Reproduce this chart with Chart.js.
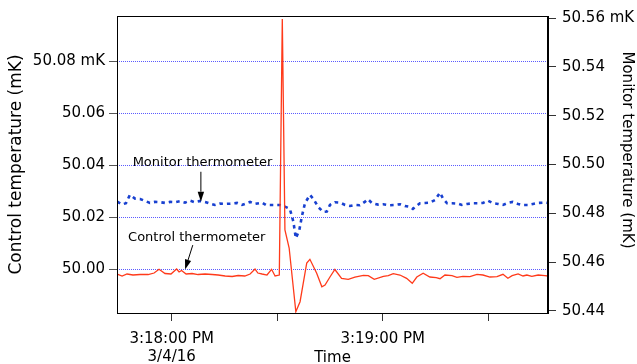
<!DOCTYPE html>
<html>
<head>
<meta charset="utf-8">
<script src="https://cdn.jsdelivr.net/npm/chart.js@4"></script>
<style>
  body { margin: 0; background: white; }
</style>
</head>
<body>
<canvas id="chart" width="637" height="364"></canvas>
<script>
// seconds after 3:18:00 PM
const controlTimes = [-15.5, -14.1, -12.7, -11.0, -9.0, -6.7, -5.0, -3.6, -1.9, -0.2, 1.4, 2.1, 2.8, 4.1, 5.8, 7.5, 9.5, 11.5, 13.2, 15.2,
    17.2, 18.9, 20.8, 22.3, 23.7, 24.5, 25.7, 27.1, 28.4, 29.4, 30.6, 31.45, 32.2, 33.4, 35.3, 36.5, 38.4, 39.3, 41.2, 42.7,
    43.6, 45.0, 46.4, 48.3, 50.2, 52.1, 54.5, 55.9, 57.6, 60.2, 61.6, 63.0, 64.9, 66.8, 68.4, 69.7, 71.5, 73.4, 75.2, 76.3,
    77.7, 79.7, 81.1, 82.8, 84.8, 86.8, 88.5, 90.5, 92.5, 94.2, 95.6, 96.8, 98.5, 99.9, 101.0, 102.4, 104.2, 106.1, 107.0];
const controlValues = [49.99808, 49.99731, 49.99808, 49.99769, 49.99788, 49.99788, 49.99846, 49.99988, 49.99827, 49.99808,
    50.00000, 49.99885, 49.99942, 49.99808, 49.99827, 49.99788, 49.99808, 49.99788, 49.99769, 49.99731,
    49.99712, 49.99750, 49.99731, 49.99808, 50.00000, 49.99846, 49.99808, 49.99769, 49.99988, 49.99731,
    49.99769, 50.09615, 50.01500, 50.00808, 49.98358, 49.98742, 50.00231, 50.00373, 49.99846, 49.99319,
    49.99385, 49.99692, 49.99981, 49.99635, 49.99604, 49.99692, 49.99758, 49.99742, 49.99604, 49.99719,
    49.99742, 49.99819, 49.99769, 49.99642, 49.99450, 49.99692, 49.99835, 49.99692, 49.99665, 49.99627,
    49.99769, 49.99742, 49.99681, 49.99719, 49.99704, 49.99796, 49.99769, 49.99692, 49.99704, 49.99796,
    49.99642, 49.99742, 49.99808, 49.99731, 49.99769, 49.99719, 49.99769, 49.99742, 49.99731];

const monitorTimes = [-15.5, -14.1, -13.0, -11.9, -10.4, -9.0, -7.6, -6.2, -4.8, -3.3, -1.9, -0.5, 0.9, 2.4, 3.8, 5.2, 6.6, 8.1, 9.5, 10.9,
    12.3, 13.7, 15.2, 16.6, 18.6, 20.0, 22.3, 23.7, 25.7, 26.8, 28.5, 30.8, 32.2, 33.6, 34.6, 35.3, 36.3, 37.0, 37.9, 39.3,
    40.3, 41.7, 43.1, 44.1, 45.0, 46.4, 47.9, 49.3, 50.7, 52.1, 53.5, 55.0, 55.8, 57.0, 58.7, 60.1, 62.1, 63.5, 64.9, 66.3,
    67.8, 68.6, 70.6, 72.0, 73.4, 74.9, 76.3, 77.1, 78.3, 79.7, 81.4, 82.5, 84.0, 85.7, 87.1, 88.5, 89.9, 91.4, 92.8, 94.2,
    95.6, 97.0, 98.5, 99.9, 101.3, 102.7, 104.2, 106.1, 107.0];
const monitorValues = [50.48480, 50.48365, 50.48414, 50.48754, 50.48602, 50.48590, 50.48508, 50.48426, 50.48467, 50.48455,
    50.48426, 50.48467, 50.48455, 50.48496, 50.48439, 50.48520, 50.48455, 50.48508, 50.48467, 50.48398,
    50.48344, 50.48398, 50.48385, 50.48398, 50.48426, 50.48344, 50.48467, 50.48385, 50.48439, 50.48344,
    50.48344, 50.48344, 50.48275, 50.48180, 50.47660, 50.46980, 50.47320, 50.47865, 50.48414, 50.48754,
    50.48590, 50.48250, 50.48057, 50.48070, 50.48344, 50.48455, 50.48439, 50.48344, 50.48303, 50.48344,
    50.48332, 50.48480, 50.48578, 50.48414, 50.48357, 50.48373, 50.48332, 50.48344, 50.48373, 50.48303,
    50.48262, 50.48180, 50.48414, 50.48426, 50.48439, 50.48549, 50.48848, 50.48619, 50.48414, 50.48414,
    50.48398, 50.48344, 50.48385, 50.48414, 50.48414, 50.48426, 50.48520, 50.48414, 50.48385, 50.48344,
    50.48426, 50.48467, 50.48385, 50.48344, 50.48344, 50.48385, 50.48426, 50.48439, 50.48426];

const xTicks = [0, 30, 60, 90];
const xTickLabels = [['3:18:00 PM', '3/4/16'], '', '3:19:00 PM', ''];
const leftTicks = [50.00, 50.02, 50.04, 50.06, 50.08];
const leftTickLabels = ['50.00', '50.02', '50.04', '50.06', '50.08 mK'];
const rightTicks = [50.44, 50.46, 50.48, 50.50, 50.52, 50.54, 50.56];
const rightTickLabels = ['50.44', '50.46', '50.48', '50.50', '50.52', '50.54', '50.56 mK'];

// annotation text + arrow, in data units (x: seconds, y: left axis)
const notes = [
    { text: 'Monitor thermometer', x: -11.1, y: 50.0408, from: [8.3, 50.0374], to: [8.3, 50.0259] },
    { text: 'Control thermometer', x: -12.4, y: 50.0122, from: [6.0, 50.0092], to: [3.8, 49.9998] }
];

const FONT = 'DejaVu Sans, Verdana, sans-serif';

// dotted blue lines at the left axis ticks
const gridPlugin = {
    id: 'dottedGrid',
    beforeDatasetsDraw(chart) {
        const { ctx, chartArea: { left, right }, scales: { y } } = chart;
        ctx.save();
        ctx.strokeStyle = '#5b5bff';
        ctx.lineWidth = 1;
        ctx.setLineDash([1, 1]);
        leftTicks.forEach(v => {
            const py = Math.round(y.getPixelForValue(v)) + 0.5;
            ctx.beginPath();
            ctx.moveTo(left, py);
            ctx.lineTo(right, py);
            ctx.stroke();
        });
        ctx.restore();
    }
};

const framePlugin = {
    id: 'frame',
    afterDraw(chart) {
        const { ctx, chartArea: { top, bottom, left, right } } = chart;
        ctx.save();
        ctx.strokeStyle = '#000000';
        ctx.lineWidth = 1;
        ctx.strokeRect(left + 0.5, top + 0.5, right - left - 1, bottom - top);
        // right axis title sits a little above centre in the original
        ctx.fillStyle = '#000000';
        ctx.font = '15px ' + FONT;
        ctx.textAlign = 'center';
        ctx.textBaseline = 'middle';
        ctx.translate(627, 150);
        ctx.rotate(Math.PI / 2);
        ctx.fillText('Monitor temperature (mK)', 0, 0);
        ctx.restore();
    }
};

const notesPlugin = {
    id: 'notes',
    afterDatasetsDraw(chart) {
        const { ctx, scales: { x, y } } = chart;
        ctx.save();
        ctx.fillStyle = '#000000';
        ctx.strokeStyle = '#000000';
        ctx.font = '13px ' + FONT;
        ctx.textBaseline = 'middle';
        notes.forEach(n => {
            ctx.fillText(n.text, x.getPixelForValue(n.x), y.getPixelForValue(n.y));
            const x1 = x.getPixelForValue(n.from[0]), y1 = y.getPixelForValue(n.from[1]);
            const x2 = x.getPixelForValue(n.to[0]), y2 = y.getPixelForValue(n.to[1]);
            const ang = Math.atan2(y2 - y1, x2 - x1);
            const head = 10, half = 3.2;
            ctx.lineWidth = 1;
            ctx.beginPath();
            ctx.moveTo(x1, y1);
            ctx.lineTo(x2 - head * Math.cos(ang), y2 - head * Math.sin(ang));
            ctx.stroke();
            ctx.beginPath();
            ctx.moveTo(x2, y2);
            ctx.lineTo(x2 - head * Math.cos(ang) - half * Math.sin(ang), y2 - head * Math.sin(ang) + half * Math.cos(ang));
            ctx.lineTo(x2 - head * Math.cos(ang) + half * Math.sin(ang), y2 - head * Math.sin(ang) - half * Math.cos(ang));
            ctx.closePath();
            ctx.fill();
        });
        ctx.restore();
    }
};

Chart.defaults.font.family = FONT;
Chart.defaults.font.size = 15;
Chart.defaults.color = '#000000';

new Chart(document.getElementById('chart'), {
    type: 'line',
    data: {
        datasets: [{
            label: 'Control',
            data: controlTimes.map((t, i) => ({ x: t, y: controlValues[i] })),
            yAxisID: 'y',
            borderColor: '#ff3a1a',
            borderWidth: 1.3,
            pointRadius: 0,
            tension: 0
        }, {
            label: 'Monitor',
            data: monitorTimes.map((t, i) => ({ x: t, y: monitorValues[i] })),
            yAxisID: 'y2',
            borderColor: '#1840d0',
            borderWidth: 2.6,
            borderDash: [3.5, 4],
            pointRadius: 0,
            tension: 0
        }]
    },
    options: {
        responsive: false,
        animation: false,
        layout: { padding: { top: 16, left: 0, right: 0, bottom: 0 } },
        plugins: { legend: { display: false }, tooltip: { enabled: false } },
        scales: {
            x: {
                type: 'linear',
                min: -15.55,
                max: 107,
                afterBuildTicks: s => { s.ticks = xTicks.map(v => ({ value: v })); },
                afterFit: s => { s.height = 51; },
                ticks: { callback: (v, i) => xTickLabels[i], padding: 9, maxRotation: 0, autoSkip: false },
                grid: { drawOnChartArea: false, drawTicks: true, tickLength: 8, tickColor: '#333333' },
                border: { color: '#000000' },
                title: { display: true, text: 'Time', font: { size: 15 }, padding: { top: 0, bottom: -3 } }
            },
            y: {
                position: 'left',
                min: 49.98308,
                max: 50.09731,
                afterBuildTicks: s => { s.ticks = leftTicks.map(v => ({ value: v })); },
                afterFit: s => { s.width = 117; },
                ticks: { callback: (v, i) => leftTickLabels[i], padding: 4, autoSkip: false },
                grid: { drawOnChartArea: false, drawTicks: true, tickLength: 8, tickColor: '#555555' },
                border: { color: '#000000' },
                title: { display: true, text: 'Control temperature (mK)', font: { size: 17 }, padding: { top: 6, bottom: 0 } }
            },
            y2: {
                position: 'right',
                min: 50.43918,
                max: 50.56082,
                afterBuildTicks: s => { s.ticks = rightTicks.map(v => ({ value: v })); },
                afterFit: s => { s.width = 89; },
                ticks: { callback: (v, i) => rightTickLabels[i], padding: 6, autoSkip: false },
                grid: { drawOnChartArea: false, drawTicks: true, tickLength: 8, tickColor: '#333333' },
                border: { color: '#000000' },
                title: { display: false }
            }
        }
    },
    plugins: [gridPlugin, framePlugin, notesPlugin]
});
</script>
</body>
</html>
